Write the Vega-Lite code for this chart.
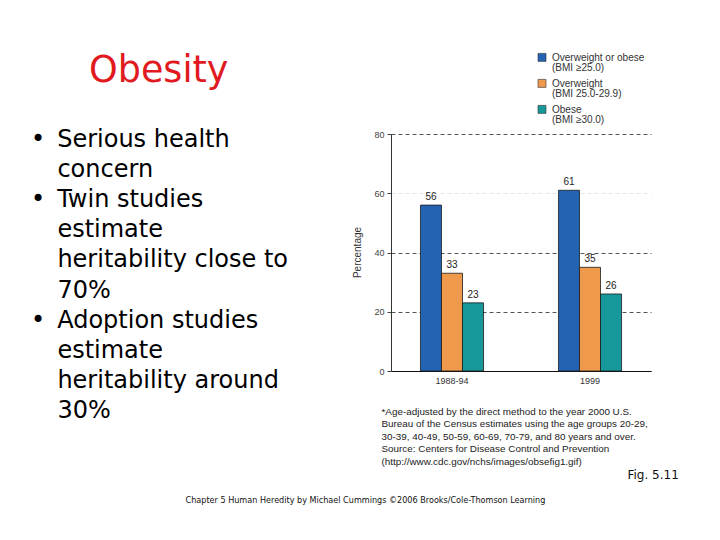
{
  "$schema": "https://vega.github.io/schema/vega-lite/v6.json",
  "width": 260,
  "height": 237,
  "autosize": {"type": "none"},
  "padding": {"left": 391, "top": 134, "right": 69, "bottom": 169},
  "background": "white",
  "title": {
    "text": "\u200b\u00a0\u00a0\u00a0\u00a0\u00a0Obesity",
    "subtitle": [
      "•\u2002Serious health",
      "\u200b\u2003\u200aconcern",
      "•\u2002Twin studies",
      "\u200b\u2003\u200aestimate",
      "\u200b\u2003\u200aheritability close to",
      "\u200b\u2003\u200a70%",
      "•\u2002Adoption studies",
      "\u200b\u2003\u200aestimate",
      "\u200b\u2003\u200aheritability around",
      "\u200b\u2003\u200a30%"
    ],
    "anchor": "start",
    "frame": "group",
    "orient": "top",
    "dx": -360,
    "dy": 379,
    "font": "DejaVu Sans",
    "fontSize": 36.5,
    "fontWeight": "normal",
    "color": "#e01a1f",
    "subtitleFont": "DejaVu Sans",
    "subtitleFontSize": 24,
    "subtitleColor": "#000000",
    "subtitleLineHeight": 30.1,
    "subtitlePadding": 39
  },
  "data": {
    "values": [
      {"period": "1988-94", "category": "Overweight or obese", "pct": 56},
      {"period": "1988-94", "category": "Overweight", "pct": 33},
      {"period": "1988-94", "category": "Obese", "pct": 23},
      {"period": "1999", "category": "Overweight or obese", "pct": 61},
      {"period": "1999", "category": "Overweight", "pct": 35},
      {"period": "1999", "category": "Obese", "pct": 26}
    ]
  },
  "layer": [
    {
      "mark": {"type": "bar", "stroke": "#1c1c1c", "strokeWidth": 0.8},
      "encoding": {
        "x": {
          "field": "period", "type": "nominal", "sort": ["1988-94", "1999"],
          "scale": {"paddingInner": 0.543, "paddingOuter": 0.2135},
          "axis": {
            "labelAngle": 0, "labelFont": "Liberation Sans", "labelFontSize": 9, "labelColor": "#333",
            "labelPadding": 5, "ticks": false, "domainColor": "#111", "domainWidth": 1.2,
            "title": [
              "*Age-adjusted by the direct method to the year 2000 U.S.",
              "Bureau of the Census estimates using the age groups 20-29,",
              "30-39, 40-49, 50-59, 60-69, 70-79, and 80 years and over.",
              "Source: Centers for Disease Control and Prevention",
              "(http://www.cdc.gov/nchs/images/obsefig1.gif)"
            ],
            "titleFont": "Liberation Sans", "titleFontSize": 9.9, "titleFontWeight": "normal",
            "titleColor": "#222", "titleLineHeight": 12.5,
            "titleX": -10, "titleY": 35, "titleAlign": "left", "titleAnchor": "start", "titleBaseline": "top"
          }
        },
        "xOffset": {"field": "category", "type": "nominal", "scale": {"domain": ["Overweight or obese", "Overweight", "Obese"]}},
        "y": {
          "field": "pct", "type": "quantitative",
          "scale": {"domain": [0, 80], "nice": false},
          "axis": {
            "values": [0, 20, 40, 60, 80],
            "labelFont": "Liberation Sans", "labelFontSize": 9, "labelColor": "#444",
            "tickSize": 4, "tickColor": "#444", "labelPadding": 3,
            "domainColor": "#333", "domainWidth": 1,
            "grid": true, "gridDash": [4, 3], "gridWidth": 1,
            "gridColor": {"condition": {"test": "datum.value == 60", "value": "#e4e4e4"}, "value": "#555"},
            "title": "Percentage", "titleFont": "Liberation Sans", "titleFontSize": 10, "titleFontWeight": "normal",
            "titleColor": "#333", "titleX": -29, "titleY": 118
          }
        },
        "color": {
          "field": "category", "type": "nominal",
          "scale": {"domain": ["Overweight or obese", "Overweight", "Obese"], "range": ["#2462b2", "#ef994c", "#17989a"]},
          "legend": {
            "title": null, "orient": "none", "legendX": 146, "legendY": -86,
            "symbolType": "M-1,0.1H1V2.1H-1Z", "symbolSize": 64, "symbolStrokeColor": "#333", "symbolStrokeWidth": 0.6,
            "labelFont": "Liberation Sans", "labelFontSize": 10, "labelColor": "#333", "labelOffset": 5,
            "labelBaseline": "top", "labelLimit": 200, "rowPadding": 0,
            "labelExpr": "datum.label == 'Overweight or obese' ? ['Overweight or obese', '(BMI ≥25.0)'] : datum.label == 'Overweight' ? ['Overweight', '(BMI 25.0-29.9)'] : ['Obese', '(BMI ≥30.0)']"
          }
        }
      }
    },
    {
      "mark": {"type": "text", "baseline": "bottom", "dy": -3, "font": "Liberation Sans", "fontSize": 10, "color": "#222"},
      "encoding": {
        "x": {
          "field": "period", "type": "nominal", "sort": ["1988-94", "1999"],
          "axis": {
            "orient": "top", "labels": false, "ticks": false, "domain": false, "grid": false,
            "title": "Chapter 5 Human Heredity by Michael Cummings ©2006 Brooks/Cole-Thomson Learning",
            "titleFont": "DejaVu Sans", "titleFontSize": 8.1, "titleFontWeight": "normal", "titleColor": "#111",
            "titleX": -206, "titleY": 366, "titleAlign": "left", "titleAnchor": "start", "titleBaseline": "middle"
          }
        },
        "xOffset": {"field": "category", "type": "nominal", "scale": {"domain": ["Overweight or obese", "Overweight", "Obese"]}},
        "y": {
          "field": "pct", "type": "quantitative",
          "axis": {
            "orient": "right", "labels": false, "ticks": false, "domain": false, "grid": false,
            "title": "Fig. 5.11", "titleFont": "DejaVu Sans", "titleFontSize": 12, "titleFontWeight": "normal",
            "titleColor": "#111", "titleAngle": 0, "titleX": -24, "titleY": 340, "titleAlign": "left", "titleBaseline": "middle"
          }
        },
        "text": {"field": "pct", "type": "quantitative"}
      }
    }
  ],
  "resolve": {"axis": {"x": "independent", "y": "independent"}},
  "config": {"view": {"stroke": null}, "style": {"guide-label": {"lineHeight": 10.3}}}
}
